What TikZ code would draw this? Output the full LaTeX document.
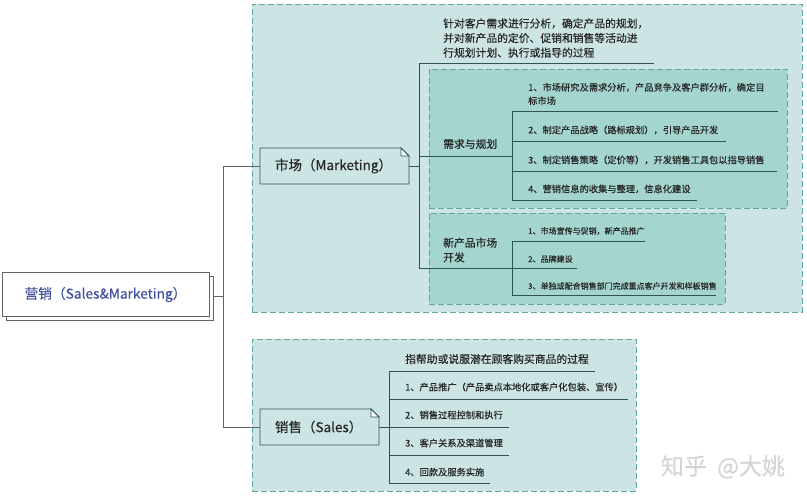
\documentclass[tikz,border=0pt]{standalone}
\usepackage{fontspec}
\setmainfont{Noto Sans CJK SC}[RawFeature={embolden=0.25}]
\definecolor{panelfill}{HTML}{CCE5E4}
\definecolor{subfill}{HTML}{A4D5CF}
\definecolor{dashline}{HTML}{5FA9A2}
\definecolor{darkline}{HTML}{2E5452}
\definecolor{greyline}{HTML}{5F6665}
\definecolor{rootblue}{HTML}{4352A0}
\newcommand{\notefold}[1]{%
  \draw[noteline, fill=panelfill] ([xshift=-8pt]#1.north east) -- ([yshift=-8pt]#1.north east)
    -- (#1.south east) -- (#1.south west) -- (#1.north west) -- cycle;
  \draw[noteline, fill=white] ([xshift=-8pt]#1.north east) -- ([xshift=-8pt,yshift=-8pt]#1.north east)
    -- ([yshift=-8pt]#1.north east) -- cycle;}
\begin{document}
\begin{tikzpicture}[
    x=1pt, y=-1pt,
    panel/.style={rectangle, draw=dashline, fill=panelfill, line width=0.9pt, dash pattern=on 6pt off 3pt, inner sep=0pt, outer sep=0pt},
    subpanel/.style={panel, fill=subfill},
    rootbox/.style={rectangle, draw=greyline, fill=white, line width=1pt, minimum width=207pt, minimum height=43pt, inner sep=0pt, outer sep=0pt},
    notebox/.style={rectangle, inner sep=0pt, outer sep=0pt, minimum height=36pt, text=black!85, font=\fontsize{13.5}{16}\selectfont},
    noteline/.style={draw=darkline, line width=0.9pt},
    title/.style={anchor=west, inner sep=0pt, align=left, text=black!85, font=\fontsize{10.8}{14.6}\selectfont},
    item/.style={anchor=west, inner sep=0pt, align=left, text=black!85, font=\fontsize{9.25}{13.5}\selectfont},
    smallitem/.style={item, font=\fontsize{8}{11}\selectfont},
    branch/.style={draw=darkline, line width=0.9pt},
    trunk/.style={draw=greyline, line width=0.9pt}
]
\useasboundingbox (0,0) rectangle (807,500);

% panels
\node[panel, minimum width=550pt, minimum height=308pt] (mktpanel) at (527,158) {};
\node[panel, minimum width=384pt, minimum height=152pt] (salespanel) at (444,415) {};
\node[subpanel, minimum width=358pt, minimum height=139pt] (planpanel) at (608,138.5) {};
\node[subpanel, minimum width=296pt, minimum height=91pt] (newpanel) at (577,258.5) {};

% root
\node[rootbox] (rootback) at (109.5,298.5) {};
\node[rootbox, text=rootblue, font=\fontsize{13.7}{16}\selectfont] (root) at (105.5,294.5) {营销（Sales\&Marketing）};

% second level
\node[notebox, minimum width=149pt] (mkt) at (334.5,166) {};
\node[notebox, minimum width=119pt] (sales) at (319.5,427) {};
\notefold{mkt}
\notefold{sales}
\node[notebox, anchor=west] (mkttext) at (275,166) {市场（Marketing）};
\node[notebox, anchor=west] (salestext) at (275,427) {销售（Sales）};

% market texts
\node[title] (mktdef) at (443,38) {针对客户需求进行分析，确定产品的规划，\\并对新产品的定价、促销和销售等活动进\\行规划计划、执行或指导的过程};
\node[title] (plan) at (443,144) {需求与规划};
\node[title] (newprod) at (443,250) {新产品市场\\开发};

\node[item] (plan1) at (528,94) {1、市场研究及需求分析，产品竞争及客户群分析，确定目\\标市场};
\node[item] (plan2) at (528,130) {2、制定产品战略（路标规划），引导产品开发};
\node[item] (plan3) at (528,160) {3、制定销售策略（定价等），开发销售工具包以指导销售};
\node[item] (plan4) at (528,189) {4、营销信息的收集与整理，信息化建设};

\node[smallitem] (new1) at (528,231) {1、市场宣传与促销，新产品推广};
\node[smallitem] (new2) at (528,259) {2、品牌建设};
\node[smallitem] (new3) at (528,286) {3、单独或配合销售部门完成重点客户开发和样板销售};

% sales texts
\node[title] (salesdef) at (405,359) {指帮助或说服潜在顾客购买商品的过程};
\node[item] (sales1) at (405,387) {1、产品推广（产品卖点本地化或客户化包装、宣传）};
\node[item] (sales2) at (405,415) {2、销售过程控制和执行};
\node[item] (sales3) at (405,443) {3、客户关系及渠道管理};
\node[item] (sales4) at (405,472) {4、回款及服务实施};

% watermark
\node[inner sep=0pt, text=black!17, font=\fontsize{23}{26}\selectfont] (mark) at (723,467) {知乎\hspace{5pt} @大姚};

% junctions
\coordinate (rootj) at (223,296);
\coordinate (trunkm) at (223,166);
\coordinate (trunks) at (223,427);
\coordinate (mktj) at (419,166);
\coordinate (mkttop) at (419,63);
\coordinate (mkttope) at (654,63);
\coordinate (mktplan) at (419,156);
\coordinate (planj) at (512,156);
\coordinate (mktnew) at (419,268);
\coordinate (newe) at (577,268);
\coordinate (newj) at (512,268);
\coordinate (plana) at (512,111);
\coordinate (planae) at (778,111);
\coordinate (planb) at (512,141);
\coordinate (planbe) at (726,141);
\coordinate (planc) at (512,171);
\coordinate (plance) at (777,171);
\coordinate (pland) at (512,200);
\coordinate (plande) at (697,200);
\coordinate (newa) at (512,241);
\coordinate (newae) at (645,241);
\coordinate (newc) at (512,295);
\coordinate (newce) at (716,295);
\coordinate (salesj) at (389,427);
\coordinate (salesa) at (389,371);
\coordinate (salesae) at (595,371);
\coordinate (salesb) at (389,399);
\coordinate (salesbe) at (628,399);
\coordinate (salesce) at (509,427);
\coordinate (salesd) at (389,455);
\coordinate (salesde) at (509,455);
\coordinate (salese) at (389,483);
\coordinate (salesee) at (490,483);

% connectors
\draw[trunk] (rootback.east |- rootj) -- (rootj);
\draw[trunk] (mkt.west) -- (trunkm) -- (trunks) -- (sales.west);

\draw[branch] (mkt.east) -- (mktj);
\draw[branch] (mkttope) -- (mkttop) -- (mktnew) -- (newe);
\draw[branch] (mktplan) -- (planj);
\draw[branch] (planae) -- (plana) -- (pland) -- (plande);
\draw[branch] (planb) -- (planbe);
\draw[branch] (planc) -- (plance);
\draw[branch] (newae) -- (newa) -- (newc) -- (newce);

\draw[branch] (sales.east) -- (salesce);
\draw[branch] (salesae) -- (salesa) -- (salese) -- (salesee);
\draw[branch] (salesb) -- (salesbe);
\draw[branch] (salesd) -- (salesde);

\end{tikzpicture}
\end{document}
